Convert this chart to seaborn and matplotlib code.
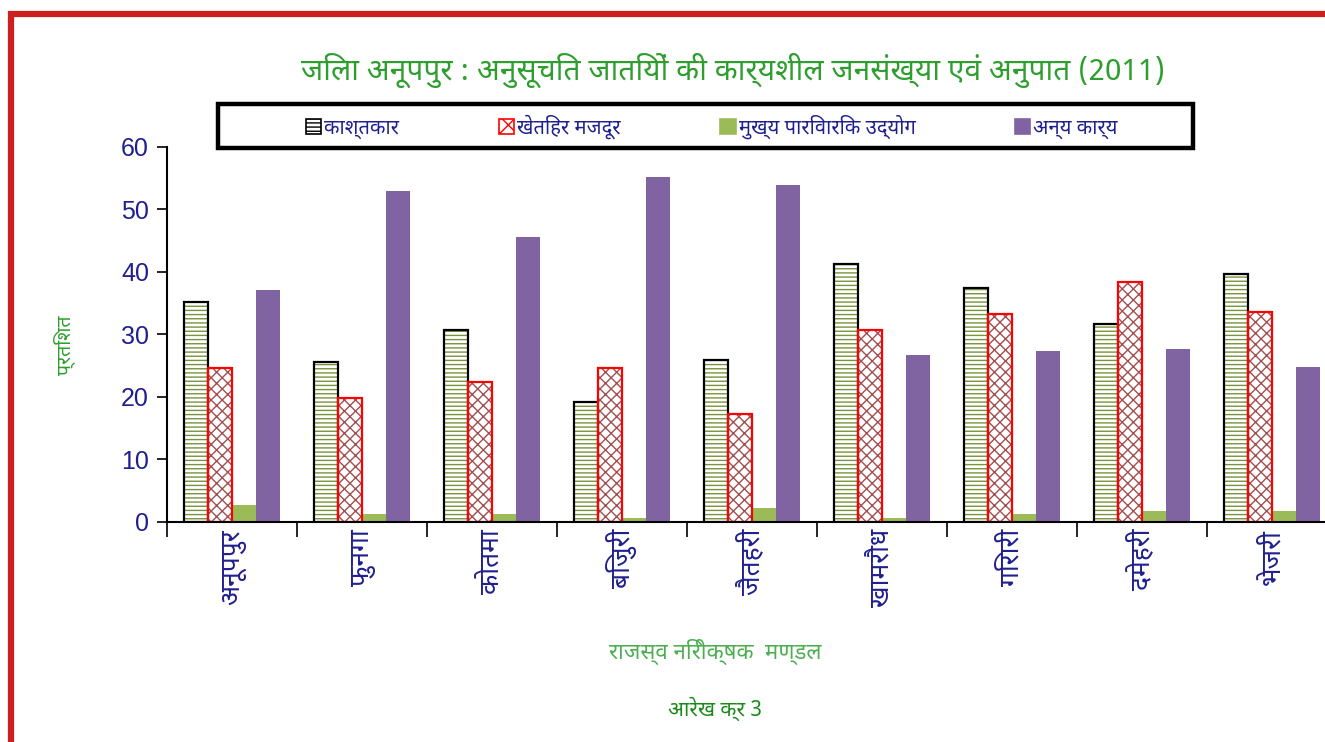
import matplotlib
matplotlib.use("Agg")
import matplotlib.pyplot as plt
from matplotlib.patches import Patch, Rectangle
import numpy as np
import pandas as pd
import seaborn as sns

# ---- data ----
circles = ["अनूपपुर", "फुनगा", "कोतमा", "बिजुरी", "जैतहरी", "खामरौध", "गिरारी", "दमेहरी", "भेजरी"]
series_names = ["काश्तकार", "खेतिहर मजदूर", "मुख्य पारिवारिक उद्योग", "अन्य कार्य"]
kashtkar = [35.2, 25.6, 30.7, 19.2, 25.9, 41.3, 37.4, 31.7, 39.7]
khetihar = [24.6, 19.8, 22.4, 24.6, 17.3, 30.7, 33.3, 38.4, 33.6]
udyog = [2.7, 1.3, 1.3, 0.7, 2.3, 0.7, 1.3, 1.7, 1.7]
anya = [37.1, 53.0, 45.6, 55.2, 53.9, 26.7, 27.4, 27.7, 24.8]
y_ticks = [0, 10, 20, 30, 40, 50, 60]

title = "जिला अनूपपुर : अनुसूचित जातियों की कार्यशील जनसंख्या एवं अनुपात (2011)"
xlabel = "राजस्व निरीक्षक  मण्डल"
ylabel = "प्रतिशत"
caption = "आरेख क्र 3"

df = pd.DataFrame({
    "circle": circles * 4,
    "type": sum([[s] * len(circles) for s in series_names], []),
    "value": kashtkar + khetihar + udyog + anya,
})

# ---- style ----
sns.set_theme(style="white")
plt.rcParams["font.family"] = ["Noto Sans Devanagari", "FreeSans", "DejaVu Sans"]
plt.rcParams["hatch.linewidth"] = 1.0

fill_colors = ["white", "white", "#9BBB59", "#8064A2"]
hatch_colors = ["#77933C", "#A05050", "#9BBB59", "#8064A2"]
edge_colors = ["black", "#FF0000", "none", "none"]
hatches = ["----", "xxx", None, None]
navy = "#1F1F8F"

fig = plt.figure(figsize=(13.25, 7.42), dpi=100)
ax = fig.add_axes([0.126, 0.2965, 0.883, 0.5054])

sns.barplot(data=df, x="circle", y="value", hue="type", hue_order=series_names,
            palette=fill_colors, width=0.74, dodge=True, ax=ax, legend=False,
            saturation=1, linewidth=0)

for i, cont in enumerate(ax.containers):
    for p in cont.patches:
        p.set_facecolor(fill_colors[i])
        if hatches[i]:
            p.set_hatch(hatches[i])
            p.set_edgecolor(hatch_colors[i])
            p.set_linewidth(0)
            ax.add_patch(Rectangle(p.get_xy(), p.get_width(), p.get_height(),
                                   fill=False, edgecolor=edge_colors[i],
                                   linewidth=1.6, zorder=p.get_zorder() + 0.1))
        else:
            p.set_edgecolor("none")

ax.set_xlim(-0.5, len(circles) - 0.5)
ax.set_ylim(0, 60)
ax.set_yticks(y_ticks)
ax.set_yticklabels([str(t) for t in y_ticks], color=navy, fontsize=18,
                   family=["Liberation Sans", "DejaVu Sans"])

ax.set_xticks(np.arange(-0.5, len(circles), 1))
ax.set_xticklabels([])
ax.set_xticks(np.arange(len(circles)), minor=True)
ax.set_xticklabels(circles, minor=True, rotation=90, color=navy, fontsize=19,
                   va="top")
ax.tick_params(axis="x", which="major", direction="out", length=11, width=1.2,
               color="black", bottom=True)
ax.tick_params(axis="x", which="minor", length=0, pad=5, bottom=True)
ax.tick_params(axis="y", direction="out", length=7, width=1.2, color="black",
               left=True, pad=6)

for side in ["top", "right"]:
    ax.spines[side].set_visible(False)
for side in ["left", "bottom"]:
    ax.spines[side].set_color("black")
    ax.spines[side].set_linewidth(1.5)
ax.set_xlabel("")
ax.set_ylabel("")
ax.grid(False)

# ---- texts ----
fig.text(0.553, 0.905, title, ha="center", va="center", color="#2E9E2E", fontsize=21.5)
fig.text(0.048, 0.535, ylabel, ha="center", va="center", rotation=90,
         color="#2E9E2E", fontsize=14)
fig.text(0.54, 0.121, xlabel, ha="center", va="center", color="#4CAF50", fontsize=16)
fig.text(0.54, 0.045, caption, ha="center", va="center", color="#1A8A1A",
         fontsize=15, fontweight="bold")

# ---- legend ----
handles = [
    Patch(facecolor="white", edgecolor="black", hatch="----", linewidth=1.2),
    Patch(facecolor="white", edgecolor="#FF0000", hatch="xx", linewidth=1.2),
    Patch(facecolor=fill_colors[2], edgecolor=fill_colors[2], linewidth=1.2),
    Patch(facecolor=fill_colors[3], edgecolor=fill_colors[3], linewidth=1.2),
]
fig.add_artist(Rectangle((218 / 1325, 1 - 148 / 742), 975 / 1325, 44 / 742,
                         transform=fig.transFigure, fill=False,
                         edgecolor="black", linewidth=3.2))
leg = fig.legend(handles, series_names, loc="center",
                 bbox_to_anchor=(712 / 1325, 1 - 127 / 742), ncol=4,
                 frameon=False, handlelength=0.75, handleheight=0.75,
                 handletextpad=0.15, columnspacing=4.95, fontsize=14.5,
                 borderaxespad=0)
for t in leg.get_texts():
    t.set_color(navy)

# ---- red outer border ----
fig.add_artist(Rectangle((11 / 1325, -0.1), 1.2, 1.1 - 14 / 742,
                         transform=fig.transFigure, fill=False,
                         edgecolor="#CC2020", linewidth=4.5))

fig.savefig("out.png", dpi=100)
